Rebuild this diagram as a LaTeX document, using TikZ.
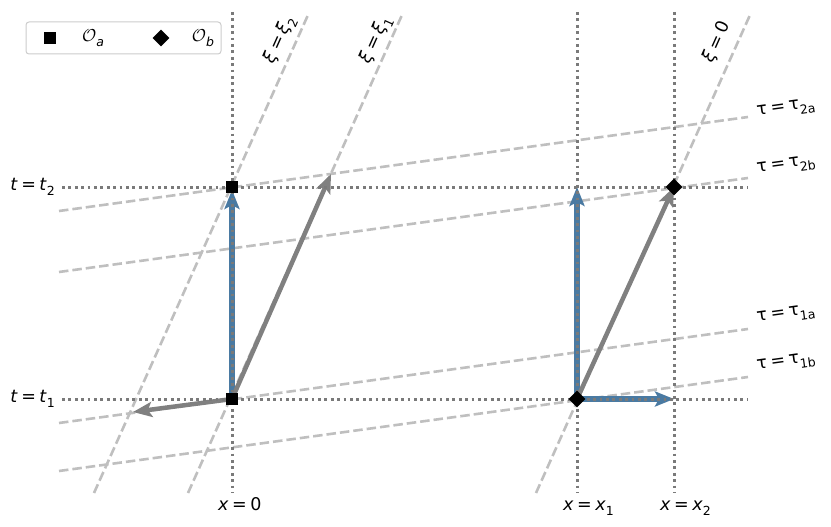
\documentclass[tikz,border=0pt]{standalone}
\usepackage{fontspec}
\setmainfont{DejaVu Sans}
\usetikzlibrary{arrows.meta,shapes.geometric}
\definecolor{dashgray}{HTML}{BFBFBF}
\definecolor{dotgray}{HTML}{7A7A7A}
\definecolor{arrgray}{HTML}{808080}
\definecolor{arrblue}{RGB}{74,122,162}
\definecolor{legframe}{HTML}{CCCCCC}
\newcommand\lsub[1]{\raisebox{-0.3em}{\fontsize{12.5}{13}\selectfont #1}}
\newcommand\eqs{\hspace{0.2em}=\hspace{0.2em}}
\tikzset{
  dashln/.style={dashgray, line width=2.6pt, dash pattern=on 9.5pt off 4pt},
  dotln/.style={dotgray, line width=3pt, dash pattern=on 2.8pt off 3.6pt},
  grayarr/.style={arrgray, line width=4.5pt, -{Stealth[length=19pt,width=15pt,inset=4pt]}},
  bluearr/.style={arrblue, line width=5.5pt, -{Stealth[length=19pt,width=15pt,inset=4pt]}},
  sqmark/.style={rectangle, fill=black, minimum size=12pt, inner sep=0pt},
  dmmark/.style={diamond, fill=black, minimum size=17pt, inner sep=0pt},
  lbl/.style={inner sep=0pt},
}
\begin{document}
\begin{tikzpicture}[x=1pt,y=-1pt,font=\fontsize{17.5}{20}\selectfont]
\useasboundingbox (0,0) rectangle (831,527);
% key points
\coordinate (Oa1) at (232,399);
\coordinate (Oa2) at (232,187);
\coordinate (Ob1) at (577,399);
\coordinate (Ob2) at (674,187);
\coordinate (x1t2) at (577,187);
\coordinate (x2t1) at (674,399);
\coordinate (g1tip) at (331,174);
\coordinate (g2tip) at (133,412);
% dashed xi lines
\coordinate (xi2a) at (94,493);  \coordinate (xi2b) at (308,15);
\coordinate (xi1a) at (188,493); \coordinate (xi1b) at (402,15);
\coordinate (xi0a) at (536,493); \coordinate (xi0b) at (750,15);
\draw[dashln] (xi2a) -- (xi2b);
\draw[dashln] (xi1a) -- (xi1b);
\draw[dashln] (xi0a) -- (xi0b);
% dashed tau lines
\coordinate (t2aL) at (59,211); \coordinate (t2aR) at (748,117);
\coordinate (t2bL) at (59,272); \coordinate (t2bR) at (748,178);
\coordinate (t1aL) at (59,423); \coordinate (t1aR) at (748,329);
\coordinate (t1bL) at (59,471); \coordinate (t1bR) at (748,377);
\draw[dashln] (t2aL) -- (t2aR);
\draw[dashln] (t2bL) -- (t2bR);
\draw[dashln] (t1aL) -- (t1aR);
\draw[dashln] (t1bL) -- (t1bR);
% arrows
\draw[bluearr, shorten >=3pt] (Oa1) -- (Oa2);
\draw[bluearr] (Ob1) -- (x1t2);
\draw[bluearr] (Ob1) -- (x2t1);
\draw[grayarr] (Oa1) -- (g1tip);
\draw[grayarr] (Oa1) -- (g2tip);
\draw[grayarr] (Ob1) -- (Ob2);
% dotted grid lines
\coordinate (v0a) at (232,12); \coordinate (v0b) at (232,493);
\coordinate (v1a) at (577,12); \coordinate (v1b) at (577,493);
\coordinate (v2a) at (674,12); \coordinate (v2b) at (674,493);
\coordinate (h2a) at (62,187); \coordinate (h2b) at (748,187);
\coordinate (h1a) at (62,399); \coordinate (h1b) at (748,399);
\draw[dotln] (v0a) -- (v0b);
\draw[dotln] (v1a) -- (v1b);
\draw[dotln] (v2a) -- (v2b);
\draw[dotln] (h2a) -- (h2b);
\draw[dotln] (h1a) -- (h1b);
% markers
\node[sqmark] (mOa1) at (Oa1) {};
\node[sqmark] (mOa2) at (Oa2) {};
\node[dmmark] (mOb1) at (Ob1) {};
\node[dmmark] (mOb2) at (Ob2) {};
% axis labels
\node[lbl, anchor=east] (lt2) at (55,187) {\textit{t}\eqs\textit{t}\lsub{2}};
\node[lbl, anchor=east] (lt1) at (55,399) {\textit{t}\eqs\textit{t}\lsub{1}};
\node[lbl, anchor=base west] (lx0) at (218,510) {\textit{x}\eqs 0};
\node[lbl, anchor=base west] (lx1) at (563,510) {\textit{x}\eqs\textit{x}\lsub{1}};
\node[lbl, anchor=base west] (lx2) at (660,510) {\textit{x}\eqs\textit{x}\lsub{2}};
% tau labels
\node[lbl, anchor=west, rotate=7.8] (ltau2a) at (757,113) {τ\eqs τ\lsub{2a}};
\node[lbl, anchor=west, rotate=7.8] (ltau2b) at (757,170) {τ\eqs τ\lsub{2b}};
\node[lbl, anchor=west, rotate=7.8] (ltau1a) at (757,319) {τ\eqs τ\lsub{1a}};
\node[lbl, anchor=west, rotate=7.8] (ltau1b) at (757,367) {τ\eqs τ\lsub{1b}};
% xi labels
\node[lbl, rotate=65.9] (lxi2) at (280,40) {\textit{ξ}\eqs\textit{ξ}\lsub{2}};
\node[lbl, rotate=65.9] (lxi1) at (376,40) {\textit{ξ}\eqs\textit{ξ}\lsub{1}};
\node[lbl, rotate=65.9] (lxi0) at (717,42) {\textit{ξ}\eqs 0};
% legend
\node[draw=legframe, fill=white, line width=1pt, rounded corners=3pt, minimum width=195pt, minimum height=32pt] (leg) at (123.5,38) {};
\node[sqmark] (legsq) at (50,38) {};
\node[lbl] (legOa) at (93,38) {$\mathcal{O}$\lsub{\textit{a}}};
\node[dmmark] (legdm) at (161,38) {};
\node[lbl] (legOb) at (203,38) {$\mathcal{O}$\lsub{\textit{b}}};
\end{tikzpicture}
\end{document}
